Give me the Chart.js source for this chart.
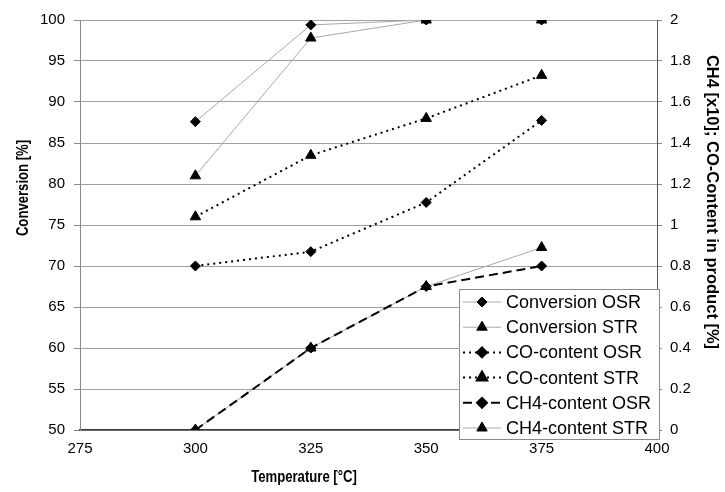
<!DOCTYPE html>
<html>
<head>
  <meta charset="UTF-8">
  <title>Conversion and product content vs temperature</title>
  <script src="https://cdn.jsdelivr.net/npm/chart.js"></script>
  <style>
    html, body { margin: 0; padding: 0; background: #fff; }
    #wrap { width: 725px; height: 492px; }
  </style>
</head>
<body>
  <div id="wrap"><canvas id="chart" width="725" height="492"></canvas></div>
  <script>
    // values
    const temps = [300, 325, 350, 375];
    const convOSR = [87.6, 99.4, 100, 100];
    const convSTR = [81, 97.8, 100, 100];
    const coOSR = [0.8, 0.87, 1.11, 1.51];
    const coSTR = [1.04, 1.34, 1.52, 1.73];
    const ch4OSR = [0, 0.4, 0.7, 0.8];
    const ch4STR = [0, 0.4, 0.7, 0.89];

    const xTicks = [275, 300, 325, 350, 375, 400];

    const toPoints = (vals) => vals.map((v, i) => ({ x: temps[i], y: v }));

    const FONT = 'Arial, "Liberation Sans", sans-serif';
    const thinGray = '#a8a8a8';

    const mk = (label, vals, axis, style, opts) => Object.assign({
      label,
      data: toPoints(vals),
      yAxisID: axis,
      pointStyle: style,
      pointRadius: style === 'triangle' ? 6 : 5,
      pointBackgroundColor: '#000',
      pointBorderColor: '#000',
      pointBorderWidth: 1,
      fill: false,
      tension: 0
    }, opts);

    const datasets = [
      mk('Conversion OSR', convOSR, 'y', 'rectRot', { borderColor: thinGray, borderWidth: 1 }),
      mk('Conversion STR', convSTR, 'y', 'triangle', { borderColor: thinGray, borderWidth: 1 }),
      mk('CO-content OSR', coOSR, 'y1', 'rectRot', { borderColor: '#000', borderWidth: 2, borderDash: [2, 4] }),
      mk('CO-content STR', coSTR, 'y1', 'triangle', { borderColor: '#000', borderWidth: 2, borderDash: [2, 4] }),
      mk('CH4-content OSR', ch4OSR, 'y1', 'rectRot', { borderColor: '#000', borderWidth: 2, borderDash: [9, 5] }),
      mk('CH4-content STR', ch4STR, 'y1', 'triangle', { borderColor: thinGray, borderWidth: 1 })
    ];

    // condensed bold axis titles, placed like in the original
    const drawTitle = (ctx, text, x, y, rot, size, squeeze) => {
      ctx.save();
      ctx.translate(x, y);
      ctx.rotate(rot);
      ctx.scale(squeeze, 1);
      ctx.font = 'bold ' + size + 'px ' + FONT;
      ctx.fillStyle = '#000';
      ctx.textAlign = 'center';
      ctx.textBaseline = 'middle';
      ctx.fillText(text, 0, 0);
      ctx.restore();
    };

    // legend box drawn inside the plot, over the lines
    const boxLegend = {
      id: 'boxLegend',
      afterDraw(chart) {
        const ctx = chart.ctx;
        const bx = 459, by = 289, bw = 200, bh = 150, rowH = 25.2;
        ctx.save();
        ctx.fillStyle = '#fff';
        ctx.fillRect(bx, by, bw, bh);
        ctx.strokeStyle = '#8a8a8a';
        ctx.lineWidth = 1;
        ctx.strokeRect(bx + 0.5, by + 0.5, bw, bh);
        chart.data.datasets.forEach((ds, i) => {
          const y = by + 13 + i * rowH;
          ctx.beginPath();
          ctx.strokeStyle = ds.borderColor;
          ctx.lineWidth = ds.borderWidth;
          ctx.setLineDash(ds.borderDash || []);
          ctx.moveTo(463, y);
          ctx.lineTo(501, y);
          ctx.stroke();
          ctx.setLineDash([]);
          ctx.fillStyle = '#000';
          ctx.strokeStyle = '#000';
          Chart.helpers.drawPoint(ctx, {
            pointStyle: ds.pointStyle, radius: ds.pointRadius, rotation: 0, borderWidth: 1
          }, 482, y);
          ctx.fillStyle = '#000';
          ctx.font = '18px ' + FONT;
          ctx.textBaseline = 'middle';
          ctx.textAlign = 'left';
          ctx.fillText(ds.label, 506, y + 1);
        });
        ctx.restore();

        drawTitle(ctx, 'Temperature [°C]', 304, 478, 0, 16, 0.82);
        drawTitle(ctx, 'Conversion [%]', 24, 188, -Math.PI / 2, 16, 0.82);
        drawTitle(ctx, 'CH4 [x10]; CO-Content in product [%]', 712, 202, Math.PI / 2, 16.5, 1);
      }
    };

    new Chart(document.getElementById('chart').getContext('2d'), {
      type: 'line',
      data: { datasets },
      plugins: [boxLegend],
      options: {
        responsive: false,
        animation: false,
        layout: { padding: { top: 20, left: 0, right: 0, bottom: 0 } },
        plugins: {
          legend: { display: false },
          tooltip: { enabled: false }
        },
        scales: {
          x: {
            type: 'linear',
            min: 275,
            max: 400,
            afterBuildTicks: (s) => { s.ticks = xTicks.map(v => ({ value: v })); },
            afterFit: (s) => { s.height = 62; },
            ticks: { color: '#000', font: { family: FONT, size: 15 }, padding: 10, maxRotation: 0 },
            grid: { display: true, drawOnChartArea: false, drawTicks: false },
            border: { color: '#3a3a3a', width: 1.5 }
          },
          y: {
            position: 'left',
            min: 50,
            max: 100,
            afterFit: (s) => { s.width = 80; },
            ticks: { stepSize: 5, color: '#000', font: { family: FONT, size: 15 }, padding: 9 },
            grid: { color: '#a0a0a0', tickLength: 6, tickColor: '#888' },
            border: { color: '#8a8a8a' }
          },
          y1: {
            position: 'right',
            min: 0,
            max: 2,
            afterFit: (s) => { s.width = 68; },
            ticks: {
              stepSize: 0.2, color: '#000', font: { family: FONT, size: 15 }, padding: 8,
              callback: (v) => String(Math.round(v * 10) / 10)
            },
            grid: { drawOnChartArea: false, tickLength: 5, color: '#888' },
            border: { color: '#555' }
          }
        }
      }
    });
  </script>
</body>
</html>
